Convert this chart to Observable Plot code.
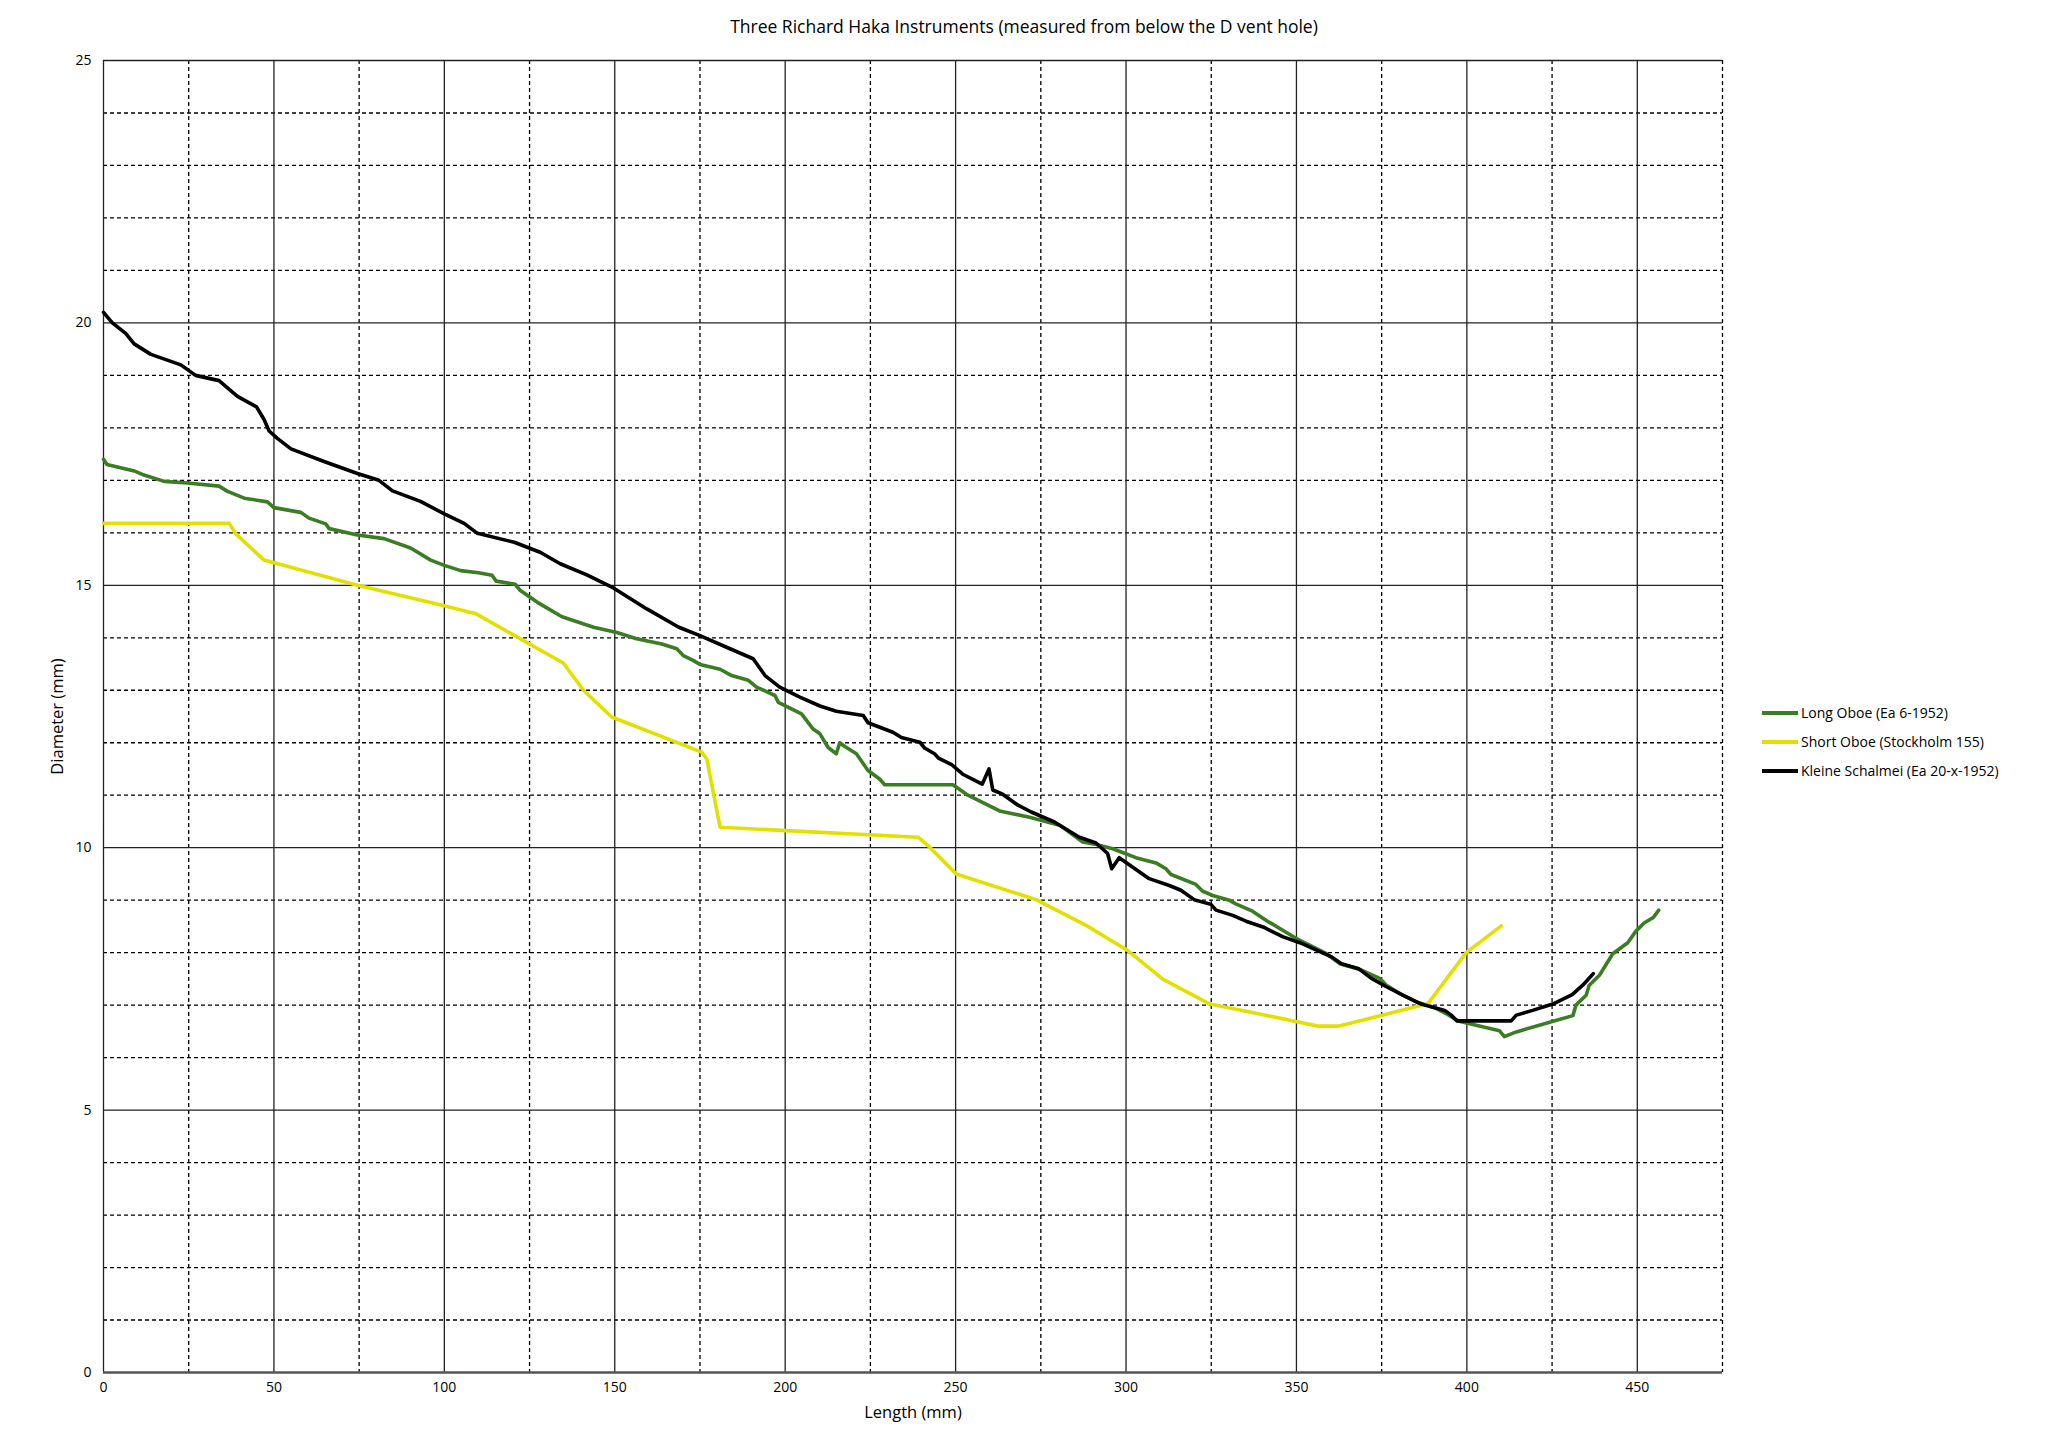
<!DOCTYPE html>
<html>
<head>
<meta charset="utf-8">
<script src="https://cdn.jsdelivr.net/npm/d3@7"></script>
<script src="https://cdn.jsdelivr.net/npm/@observablehq/plot@0.6"></script>
<style>
  html, body { margin: 0; padding: 0; background: #fff; }
  body { width: 2048px; height: 1449px; position: relative; overflow: hidden; font-family: "Open Sans", "Noto Sans", sans-serif; }
  #title { height: 40px; text-align: center; font-size: 17.5px; line-height: 18px; padding-top: 17px; box-sizing: border-box; color: #000; }
  #legend { position: absolute; left: 1762px; top: 698px; font-size: 14px; color: #000; }
  .item { display: flex; align-items: center; height: 29px; }
  .swatch { width: 36px; height: 4px; margin-right: 3px; }
  g[aria-label="x-axis label"] text, g[aria-label="y-axis label"] text { font-size: 16.5px; }
</style>
</head>
<body>
<div id="title">Three Richard Haka Instruments (measured from below the D vent hole)</div>
<div id="chart"></div>
<div id="legend"></div>
<script>
// ---- Data ----
const seriesNames = ["Long Oboe (Ea 6-1952)", "Short Oboe (Stockholm 155)", "Kleine Schalmei (Ea 20-x-1952)"];
const seriesColors = ["#3A7D22", "#E2E000", "#000000"];

const longX = [0,1,9,11.9,17.8,24.6,33.9,36.4,41.3,48.1,50,57.9,60.3,65.2,66.2,74.5,82.3,90.1,96,100,104.8,110,114,115.2,120.8,122.3,127.2,134.5,143.8,150.6,156.4,163.8,168.2,170.1,173,175,180.9,184.3,189.2,191.6,197,198,204.8,208.2,210.2,212.6,215,216,217.5,220.9,224.3,227.7,229.2,249.2,253.6,262.9,271.7,280.5,287.3,291.2,296.1,302.9,308.8,311.7,313.2,320.5,322.5,325.4,330.3,332.2,337.1,341.5,350,358.8,362.7,368.6,374.4,376.4,380.3,385.2,391,393.9,397.4,409.6,411,414.5,431.1,432,435,435.9,438.9,442.8,447.2,449.6,452.1,454.7,456.3];
const longY = [17.4,17.3,17.18,17.1,16.98,16.95,16.89,16.79,16.66,16.59,16.48,16.39,16.28,16.17,16.08,15.96,15.89,15.71,15.48,15.38,15.28,15.24,15.19,15.08,15.02,14.9,14.68,14.4,14.2,14.1,13.98,13.88,13.79,13.66,13.57,13.49,13.4,13.28,13.19,13.06,12.9,12.77,12.55,12.26,12.17,11.91,11.79,12.0,11.93,11.79,11.47,11.31,11.2,11.2,11.0,10.7,10.58,10.43,10.11,10.06,9.98,9.81,9.71,9.6,9.49,9.3,9.17,9.09,9.0,8.93,8.79,8.6,8.27,7.98,7.79,7.68,7.51,7.38,7.22,7.06,6.94,6.84,6.7,6.51,6.4,6.49,6.8,7.0,7.19,7.38,7.57,7.98,8.19,8.41,8.57,8.67,8.81];

const shortX = [0,36.9,38.8,47.1,74.5,100,109.2,134.9,140.8,149.1,175.5,177,180.9,239,242.4,250.2,273.6,288.3,300.5,310.9,324.6,336.3,350.5,356.3,362.2,375.4,388.6,399.8,410.1];
const shortY = [16.18,16.18,15.98,15.48,15.0,14.61,14.46,13.52,13.0,12.49,11.82,11.69,10.39,10.2,10.01,9.5,9.01,8.52,8.04,7.49,7.02,6.87,6.68,6.6,6.6,6.81,7.03,8.0,8.51];

const kleinX = [0,2.6,6.5,9,13.9,22.7,27,33.9,39.3,44.9,47.1,48.6,51,55,64.7,74.5,80.8,84.8,93,100,105.8,109.7,120.5,128.1,134,141.8,149.6,159.4,168.8,175,182.8,190.6,194.1,198.4,204.3,210.2,215,222.9,224.3,231.6,234.1,239.5,240.9,243.8,245.1,248.7,252.1,257.8,259.8,260.9,263.8,268.3,272.2,279,286.3,291.2,294.6,295.8,298,306.8,312.7,316.1,320,324.9,326.4,331.3,335.2,340.2,346.1,351,360.3,363.2,368.1,372,376.4,381.2,386.6,393.5,395.4,397.1,413,414.5,419.3,425.2,430.9,434,437.1];
const kleinY = [20.2,20.0,19.8,19.6,19.4,19.2,19.0,18.9,18.6,18.4,18.16,17.94,17.8,17.6,17.36,17.13,17.0,16.8,16.6,16.36,16.18,15.99,15.82,15.63,15.41,15.2,14.95,14.55,14.2,14.04,13.82,13.6,13.28,13.06,12.87,12.7,12.6,12.52,12.38,12.2,12.1,12.01,11.9,11.79,11.7,11.59,11.4,11.21,11.5,11.1,11.02,10.81,10.68,10.49,10.2,10.09,9.89,9.6,9.81,9.41,9.28,9.19,9.01,8.92,8.81,8.71,8.6,8.49,8.3,8.19,7.92,7.79,7.7,7.51,7.35,7.19,7.02,6.9,6.81,6.7,6.7,6.81,6.9,7.02,7.2,7.38,7.6];

const xTicks = [0,50,100,150,200,250,300,350,400,450];
const yTicks = [0,5,10,15,20,25];

// ---- Build tables ----
const toRows = (xs, ys, name) => xs.map((x, i) => ({x, y: ys[i], series: name}));
const longRows = toRows(longX, longY, seriesNames[0]);
const shortRows = toRows(shortX, shortY, seriesNames[1]);
const kleinRows = toRows(kleinX, kleinY, seriesNames[2]);

const xMajor = d3.range(0, 476, 50);
const xMinor = d3.range(25, 476, 50);
const yMajor = d3.range(5, 26, 5);
const yMinor = d3.range(1, 25, 1).filter(v => v % 5 !== 0);

const chart = Plot.plot({
  width: 2048,
  height: 1409,
  marginTop: 20,
  marginBottom: 77,
  marginLeft: 103,
  marginRight: 326,
  style: {fontFamily: '"Open Sans", "Noto Sans", sans-serif', fontSize: "14px", color: "#000", background: "#fff", overflow: "visible"},
  x: {domain: [0, 475], ticks: xTicks, tickSize: 0, tickPadding: 10, label: "Length (mm)", labelAnchor: "center", labelOffset: 45, labelArrow: "none"},
  y: {domain: [0, 25], ticks: yTicks, tickSize: 0, tickPadding: 12, label: "Diameter (mm)", labelAnchor: "center", labelOffset: 52, labelArrow: "none"},
  marks: [
    Plot.ruleX(xMinor, {stroke: "#000", strokeWidth: 1.3, strokeDasharray: "4,3"}),
    Plot.ruleY(yMinor, {stroke: "#000", strokeWidth: 1.3, strokeDasharray: "4,3"}),
    Plot.ruleX(xMajor, {stroke: "#222", strokeWidth: 1.3}),
    Plot.ruleY(yMajor, {stroke: "#222", strokeWidth: 1.3}),
    Plot.ruleY([0], {stroke: "#555", strokeWidth: 2.5}),
    Plot.line(longRows, {x: "x", y: "y", stroke: seriesColors[0], strokeWidth: 3.6, strokeLinejoin: "round", strokeLinecap: "round"}),
    Plot.line(shortRows, {x: "x", y: "y", stroke: seriesColors[1], strokeWidth: 3.6, strokeLinejoin: "round", strokeLinecap: "round"}),
    Plot.line(kleinRows, {x: "x", y: "y", stroke: seriesColors[2], strokeWidth: 3.6, strokeLinejoin: "round", strokeLinecap: "round"}),
    Plot.axisX({ticks: xTicks, tickSize: 0, tickPadding: 10, label: "Length (mm)", labelAnchor: "center", labelOffset: 45, labelArrow: "none", fontSize: 14}),
    Plot.axisY({ticks: yTicks, tickSize: 0, tickPadding: 12, label: "Diameter (mm)", labelAnchor: "center", labelOffset: 52, labelArrow: "none", fontSize: 14})
  ]
});
document.getElementById("chart").appendChild(chart);

// ---- Legend ----
const legend = document.getElementById("legend");
seriesNames.forEach((name, i) => {
  const item = document.createElement("div");
  item.className = "item";
  const sw = document.createElement("div");
  sw.className = "swatch";
  sw.style.background = seriesColors[i];
  const label = document.createElement("span");
  label.textContent = name;
  item.appendChild(sw);
  item.appendChild(label);
  legend.appendChild(item);
});
</script>
</body>
</html>
